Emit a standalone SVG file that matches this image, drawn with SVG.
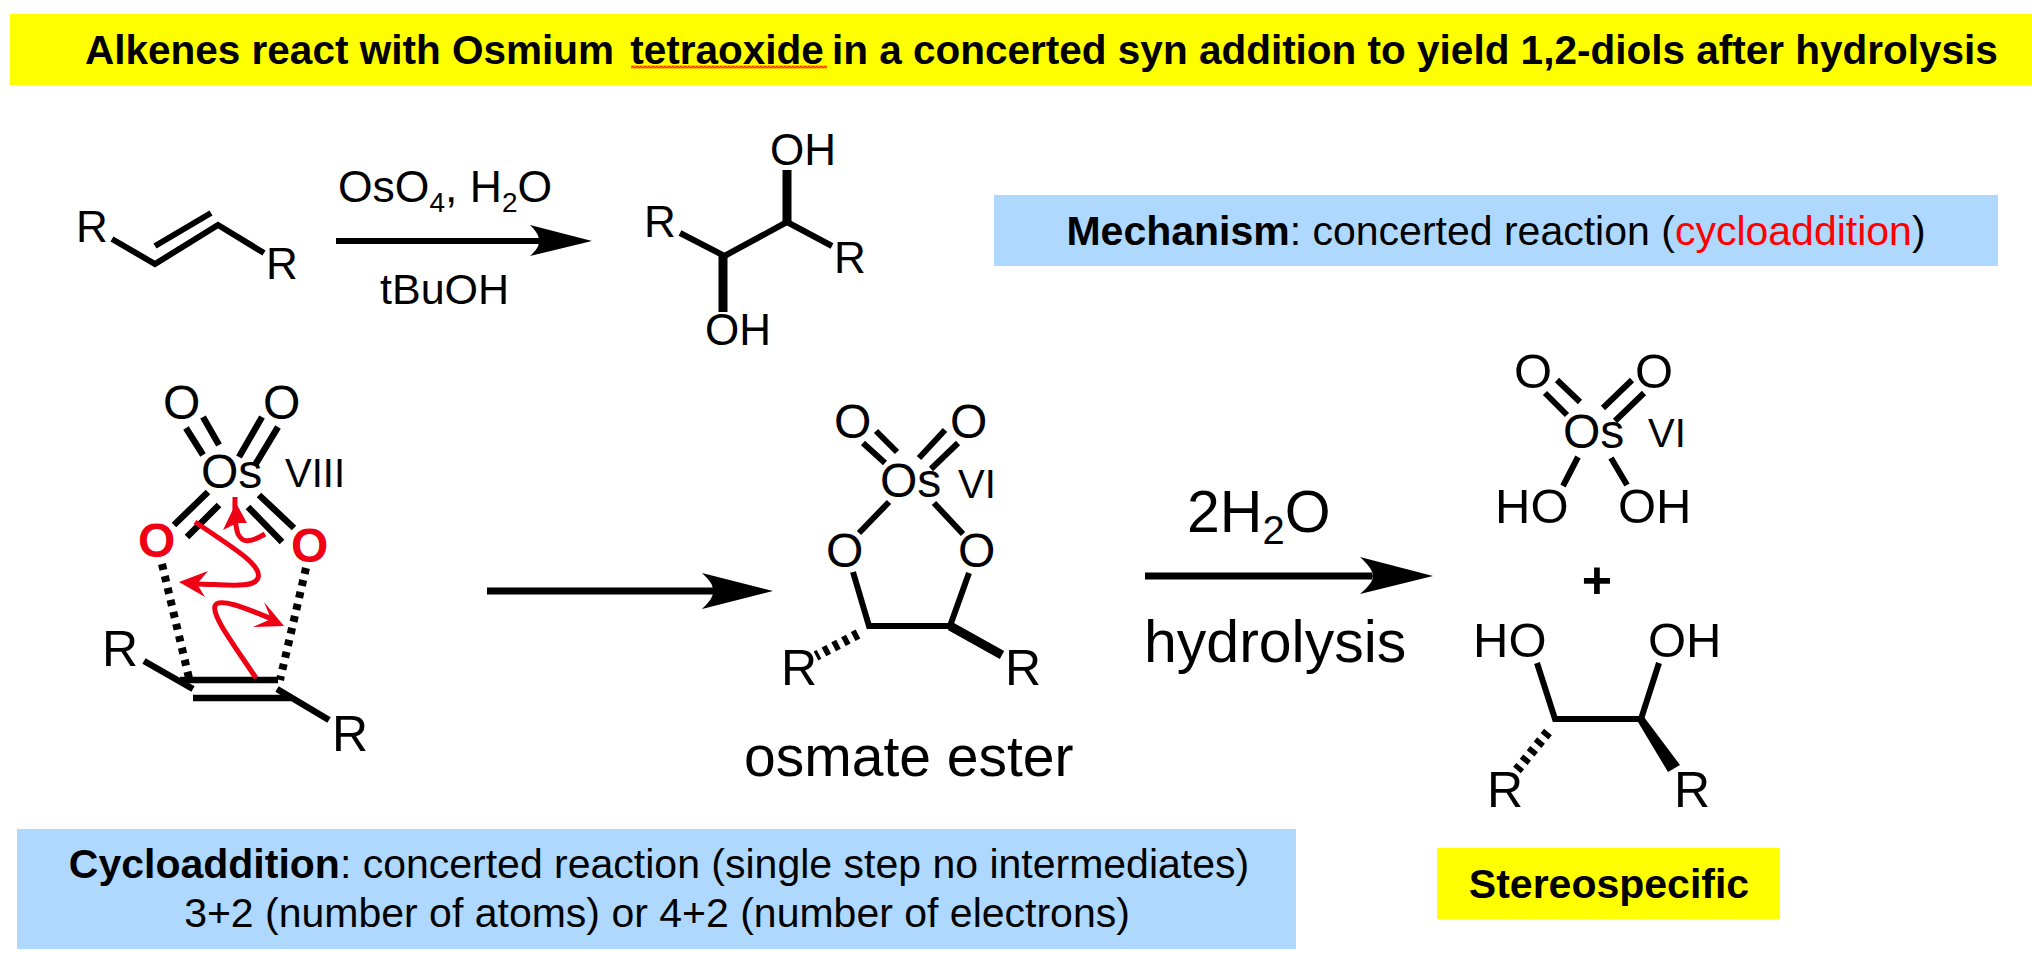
<svg xmlns="http://www.w3.org/2000/svg" width="2032" height="953" viewBox="0 0 2032 953">
<style>
text{font-family:"Liberation Sans",Arial,sans-serif;fill:#000}
.b{stroke:#000;stroke-width:6;fill:none}
.b2{stroke:#000;stroke-width:6.500;fill:none}
.w{stroke:#000;stroke-width:9;fill:none}
.d{stroke:#000;stroke-width:8;stroke-dasharray:6 6.300;fill:none}
.d2{stroke:#000;stroke-width:10;stroke-dasharray:5.500 5.500;fill:none}
.r{stroke:#f00014;stroke-width:5;fill:none}
.h{fill:#f00014}
.a{stroke:#000;stroke-width:7;fill:none}
.t44{font-size:44px}.t50{font-size:50px}.t48{font-size:48px}.t49{font-size:49px}.t40{font-size:40px}
.blue{fill:#afd8ff}.yel{fill:#ff0}
.ttl{font-size:40.500px;font-weight:bold}
.lbl{font-size:41px}
</style>
<defs><pattern id="wavy" width="4" height="3" patternUnits="userSpaceOnUse" x="631" y="65.500"><path d="M0 2.500L2 .5L4 2.500" fill="none" stroke="#f00" stroke-width="1.300"/></pattern></defs>
<rect width="2032" height="953" fill="#fff"/>
<g id="title"><rect class="yel" x="10" y="14" width="2022" height="71"/>
<text x="85" y="64" class="ttl">Alkenes react with Osmium <tspan dx="5">tetraoxide</tspan><tspan dx="-3"> in a concerted syn addition to yield 1,2-diols after hydrolysis</tspan></text>
<rect x="631" y="65.500" width="196" height="3" fill="url(#wavy)"/></g>
<g id="alkene">
<path class="b" d="M112 239L155 264L218 225L264 253M155 246L211 213"/>
<text class="t44" x="76" y="242">R</text><text class="t44" x="266" y="279">R</text></g>
<g id="diol-top">
<path class="b" d="M680 233L724.500 256L787 222L832 246"/>
<path class="w" d="M787 170V222M723 256V312"/>
<text class="t44" x="644" y="237">R</text><text class="t44" x="834" y="273">R</text>
<text class="t44" x="770" y="165">OH</text><text class="t44" x="705" y="345">OH</text></g>
<g id="connectors">
<path class="a" d="M336 241H540" style="stroke-width:6"/><path d="M592 241L530 225Q541 236 538 241Q541 246 530 256Z"/>
<path class="a" d="M487 591H714"/><path d="M773 591L702 573Q716 586 712 591Q716 596 702 609Z"/>
<path class="a" d="M1145 576H1372"/><path d="M1433 576L1360 557Q1375 571 1372 576Q1375 581 1360 594Z"/>
</g>
<g id="reagents-1">
<text font-size="44.500" x="338" y="202">OsO<tspan font-size="28" dy="10">4</tspan><tspan dy="-10">, H</tspan><tspan font-size="28" dy="10">2</tspan><tspan dy="-10">O</tspan></text>
<text font-size="43" x="380" y="304">tBuOH</text></g>
<g id="ts">
<path class="b2" d="M186 428L203 455M203 417L219 445M262 417L239 457M278 427L255 465M208 492L174 525M219 505L187 537M259 495L294 528M248 507L282 542"/>
<path class="d" d="M162 564L189 678M306 568L280 680"/>
<path class="b2" d="M180 680H278M193 698H292M144 661L193 689M277 689L329 720"/>
<text class="t48" x="163" y="419">O</text><text class="t48" x="263" y="419">O</text>
<text class="t48" x="201" y="488">Os</text><text class="t40" x="285" y="487">VIII</text>
<text class="t48" x="138" y="557" font-weight="bold" style="fill:#f00014">O</text><text class="t48" x="291" y="562" font-weight="bold" style="fill:#f00014">O</text>
<text class="t50" x="102" y="666">R</text><text class="t50" x="332" y="751">R</text>
<path class="r" d="M265 534C248 544 242 542 238 534C234 524 235 510 235 497"/><path class="h" d="M236 503L223 530L237 523L247 523Z"/>
<path class="r" d="M195 522C240 552 262 566 258 578C254 588 232 585 197 584"/><path class="h" d="M179 582L208 571L197 584L205 597Z"/>
<path class="r" d="M256 678C232 642 212 616 215 606C218 596 250 610 272 619"/><path class="h" d="M284 626L264 602L271 619L253 627Z"/></g>
<g id="osmate">
<path class="b" d="M863 443L885 463M876 431L897 452M945 430L919 458M958 443L931 469M889 502L859 533M934 503L963 534M853 572L869 626H950L969 573"/>
<path class="d2" d="M858 634L816 656"/><path class="w" d="M950 626L1002 655"/>
<text class="t48" x="834" y="438">O</text><text class="t48" x="950" y="438">O</text>
<text class="t48" x="880" y="497">Os</text><text class="t40" x="958" y="498">VI</text>
<text class="t48" x="826" y="567">O</text><text class="t48" x="958" y="567">O</text>
<text class="t50" x="781" y="685">R</text><text class="t50" x="1005" y="685">R</text>
<text x="744" y="776" font-size="57">osmate ester</text></g>
<g id="reagents-2"><text x="1187" y="531.500" font-size="59">2H<tspan font-size="40" dy="12">2</tspan><tspan dy="-12">O</tspan></text>
<text x="1144" y="662" font-size="59">hydrolysis</text></g>
<g id="osmic"><path class="b" d="M1545 393L1567 415M1557 380L1580 402M1632 380L1603 408M1644 393L1615 421M1578 457L1563 486M1611 458L1627 485"/>
<text class="t49" x="1514" y="388">O</text><text class="t49" x="1635" y="388">O</text>
<text class="t48" x="1563" y="448">Os</text><text class="t40" x="1648" y="447">VI</text>
<text class="t49" x="1495" y="523">HO</text><text class="t49" x="1618" y="523">OH</text></g>
<text id="plus" x="1597" y="598" font-size="52" font-weight="bold" text-anchor="middle">+</text>
<g id="diol-bottom"><path class="b" d="M1537 663L1555 719H1641L1659 663"/>
<path class="d2" d="M1548 732L1517 770"/><path d="M1638 722L1644 717L1680 765L1668 772Z"/>
<text class="t49" x="1473" y="657">HO</text><text class="t49" x="1648" y="657">OH</text>
<text class="t50" x="1487" y="807">R</text><text class="t50" x="1674" y="807">R</text></g>
<g id="mechanism"><rect class="blue" x="994" y="195" width="1004" height="71"/>
<text x="1496" y="245" class="lbl" text-anchor="middle"><tspan font-weight="bold">Mechanism</tspan>: concerted reaction (<tspan style="fill:#f00">cycloaddition</tspan>)</text></g>
<g id="cycloaddition"><rect class="blue" x="17" y="829" width="1279" height="120"/>
<text x="659" y="878" class="lbl" text-anchor="middle"><tspan font-weight="bold">Cycloaddition</tspan>: concerted reaction (single step no intermediates)</text>
<text x="657" y="926.500" class="lbl" text-anchor="middle">3+2 (number of atoms) or 4+2 (number of electrons)</text></g>
<g id="stereo"><rect class="yel" x="1437" y="848" width="343" height="71"/><text x="1609" y="898" class="lbl" font-weight="bold" text-anchor="middle">Stereospecific</text></g>
</svg>
